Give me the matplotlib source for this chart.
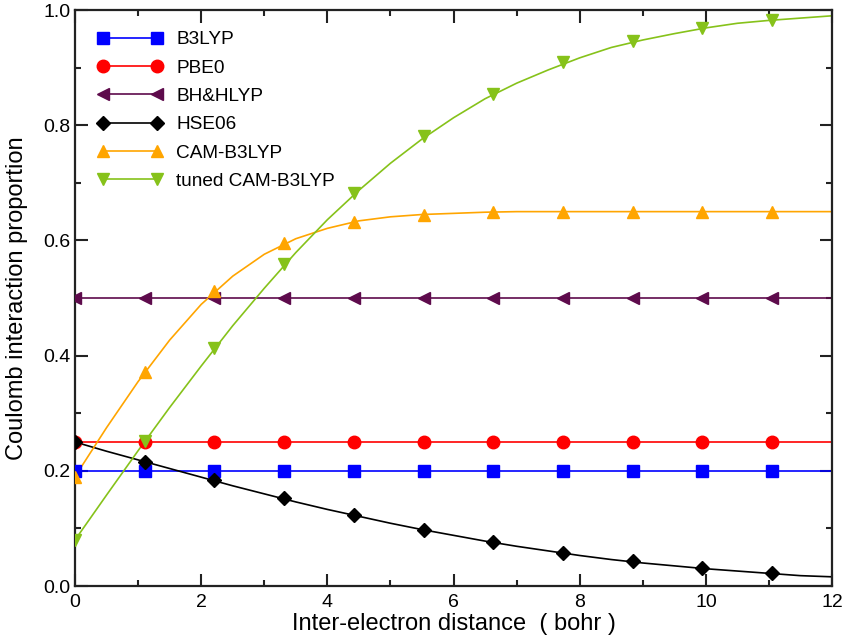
import matplotlib
matplotlib.use("Agg")
import matplotlib.pyplot as plt
from matplotlib.ticker import MultipleLocator

plt.rcParams['font.family'] = ['Liberation Sans', 'DejaVu Sans']

# marker positions (bohr)
r_mark = [0, 1.105, 2.21, 3.315, 4.42, 5.525, 6.63, 7.735, 8.84, 9.945, 11.05]
# denser positions for the smooth curves
r_line = [0, 0.5, 1, 1.5, 2, 2.5, 3, 3.5, 4, 4.5, 5, 5.5, 6, 6.5, 7, 7.5,
          8, 8.5, 9, 9.5, 10, 10.5, 11, 11.5, 12]

b3lyp_mark = [0.2] * 11
pbe0_mark = [0.25] * 11
bhhlyp_mark = [0.5] * 11
hse06_mark = [0.25, 0.216, 0.184, 0.152, 0.123, 0.098, 0.076, 0.058, 0.043, 0.031, 0.022]
cam_mark = [0.19, 0.372, 0.512, 0.595, 0.632, 0.645, 0.649, 0.65, 0.65, 0.65, 0.65]
tuned_mark = [0.08, 0.251, 0.413, 0.559, 0.682, 0.781, 0.855, 0.909, 0.946, 0.969, 0.983]

flat_r = [0, 12]
b3lyp_line = [0.2, 0.2]
pbe0_line = [0.25, 0.25]
bhhlyp_line = [0.5, 0.5]
hse06_line = [0.25, 0.234, 0.219, 0.204, 0.189, 0.174, 0.160, 0.146, 0.133, 0.121,
              0.109, 0.098, 0.088, 0.078, 0.069, 0.061, 0.053, 0.046, 0.040, 0.035,
              0.030, 0.026, 0.022, 0.018, 0.016]
cam_line = [0.19, 0.275, 0.355, 0.427, 0.489, 0.538, 0.576, 0.603, 0.621, 0.634,
            0.641, 0.645, 0.647, 0.649, 0.65, 0.65, 0.65, 0.65, 0.65, 0.65,
            0.65, 0.65, 0.65, 0.65, 0.65]
tuned_line = [0.08, 0.158, 0.235, 0.310, 0.382, 0.452, 0.517, 0.579, 0.636, 0.687,
              0.734, 0.776, 0.813, 0.846, 0.873, 0.896, 0.917, 0.935, 0.948, 0.959,
              0.969, 0.977, 0.982, 0.986, 0.990]

series = [
    ("B3LYP", flat_r, b3lyp_line, b3lyp_mark, "#0000ff", "s", 8),
    ("PBE0", flat_r, pbe0_line, pbe0_mark, "#ff0000", "o", 9),
    ("BH&HLYP", flat_r, bhhlyp_line, bhhlyp_mark, "#5e0b4c", "<", 9),
    ("HSE06", r_line, hse06_line, hse06_mark, "#000000", "D", 7),
    ("CAM-B3LYP", r_line, cam_line, cam_mark, "#ffa500", "^", 9),
    ("tuned CAM-B3LYP", r_line, tuned_line, tuned_mark, "#86c21a", "v", 9),
]

fig = plt.figure(figsize=(8.45, 6.43), dpi=100)
ax = fig.add_axes([0.0888, 0.0886, 0.8959, 0.8958])

handles = []
for name, rl, yl, ym, col, mk, ms in series:
    ax.plot(rl, yl, color=col, lw=1.2, zorder=2)
    ax.plot(r_mark, ym, ls='none', marker=mk, ms=ms, color=col, zorder=3)
    h, = ax.plot([], [], color=col, lw=1.2, marker=mk, ms=ms, label=name)
    handles.append(h)

ax.set_xlim(0, 12)
ax.set_ylim(0, 1.0)
ax.xaxis.set_major_locator(MultipleLocator(2))
ax.xaxis.set_minor_locator(MultipleLocator(1))
ax.yaxis.set_major_locator(MultipleLocator(0.2))
ax.yaxis.set_minor_locator(MultipleLocator(0.1))
ax.set_yticklabels(["%.1f" % v for v in ax.get_yticks()])

ax.tick_params(which='both', direction='in', top=True, right=True, width=1.5,
               labelsize=14, colors='#222222', labelcolor='black')
ax.tick_params(which='major', length=9)
ax.tick_params(which='minor', length=4.5)
ax.tick_params(axis='x', pad=6)
for s in ax.spines.values():
    s.set_linewidth(1.6)
    s.set_color('#222222')

ax.set_xlabel("Inter-electron distance  ( bohr )", fontsize=17, labelpad=1)
ax.set_ylabel("Coulomb interaction proportion", fontsize=17, labelpad=11)

ax.legend(handles=handles, loc='upper left', frameon=False, fontsize=13.7,
          numpoints=2, handlelength=3.44, labelspacing=0.58,
          bbox_to_anchor=(97 / 845, 1 - 31 / 643), bbox_transform=fig.transFigure,
          handletextpad=0.72, borderaxespad=0, borderpad=0)

fig.savefig("out.png", dpi=100)
